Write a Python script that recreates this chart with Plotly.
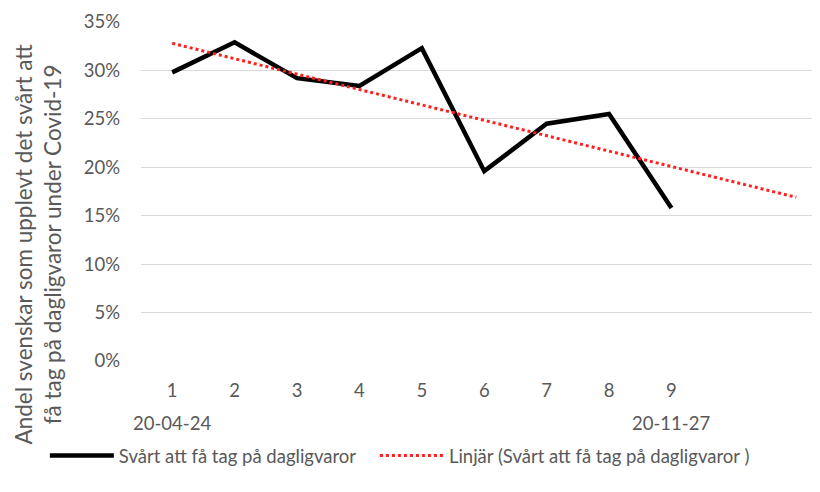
import plotly.graph_objects as go

# survey rounds (x position) and share that found it hard to get groceries
rounds = [1, 2, 3, 4, 5, 6, 7, 8, 9]
share = [0.298, 0.329, 0.292, 0.284, 0.323, 0.196, 0.245, 0.255, 0.158]

# Excel linear trendline, forecast two periods ahead (ends)
trend_x = [1, 11]
trend_y = [0.328, 0.169]

date_labels = {1: "20-04-24", 9: "20-11-27"}

series_name = "Svårt att få tag på dagligvaror"
trend_name = "Linjär (Svårt att få tag på dagligvaror )"
y_title = "Andel svenskar som upplevt det svårt att<br>få tag på dagligvaror under Covid-19"

FONT = "Lato, 'Open Sans', sans-serif"
GREY = "#595959"

fig = go.Figure()
fig.add_trace(go.Scatter(
  x=rounds, y=share, mode="lines",
  name=series_name + "\u00a0\u00a0\u00a0",  # a bit more room before the next entry
  line=dict(color="black", width=4.5),
))
fig.add_trace(go.Scatter(
  x=trend_x, y=trend_y, mode="lines", name=trend_name,
  line=dict(color="#ff1f1f", width=3, dash="dot"),
))

for x, txt in date_labels.items():
  fig.add_annotation(
    x=x, y=0, xref="x", yref="paper", yshift=-62, yanchor="middle",
    text=txt, showarrow=False, font=dict(size=18.5, color=GREY, family=FONT),
  )

fig.add_annotation(
  x=0, y=0.5, xref="paper", yref="paper", xshift=-104, yshift=-53,
  xanchor="center", yanchor="middle",
  text=y_title, textangle=-90, showarrow=False,
  font=dict(size=22.5, color=GREY, family=FONT),
)

# page body adds an 8px offset, so margins are shifted to compensate
fig.update_layout(
  width=820, height=492,
  margin=dict(l=133, r=8, t=14, b=139, autoexpand=False),
  paper_bgcolor="white", plot_bgcolor="white",
  font=dict(family=FONT, color=GREY, size=18.5),
  showlegend=True,
  # legend left of x=0 and below the plot, so it may use l + w before wrapping
  legend=dict(
    orientation="h", x=-0.1416, xanchor="left", xref="paper",
    y=-0.28, yanchor="middle", yref="paper",
    font=dict(size=18.5, color=GREY), traceorder="normal",
    itemwidth=64,
  ),
  xaxis=dict(
    range=[0.5, 11.38], tickvals=rounds, ticktext=[str(r) for r in rounds],
    showgrid=False, zeroline=False, showline=False, automargin=False,
    ticks="", ticklabelstandoff=16, tickfont=dict(size=18.5, color=GREY),
  ),
  yaxis=dict(
    range=[0, 0.35], dtick=0.05, tickformat=".0%", automargin=False,
    showgrid=True, gridcolor="#d9d9d9", gridwidth=1,
    zeroline=False, showline=False,
    ticks="", ticklabelstandoff=20, tickfont=dict(size=18.5, color=GREY),
  ),
)

fig.write_html("out.html")
